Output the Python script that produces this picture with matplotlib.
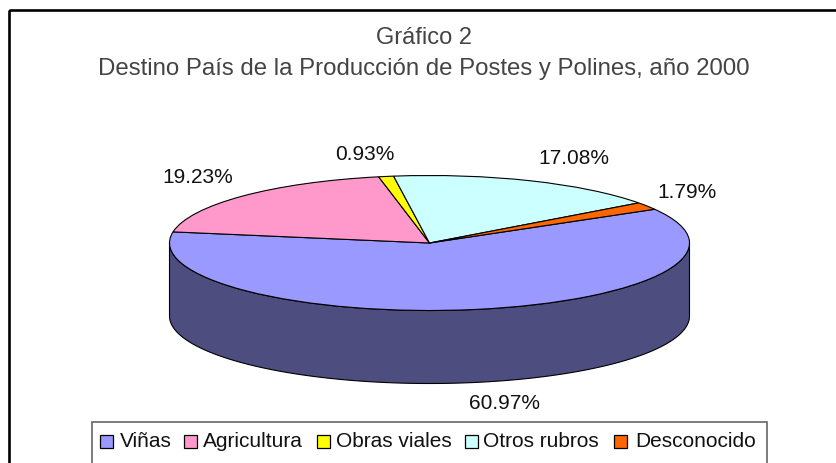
import numpy as np
import matplotlib
matplotlib.use('Agg')
import matplotlib.pyplot as plt
from matplotlib.patches import Wedge, Rectangle, Polygon
from matplotlib.transforms import Affine2D

categories = ['Viñas', 'Agricultura', 'Obras viales', 'Otros rubros', 'Desconocido']
values = [60.97, 19.23, 0.93, 17.08, 1.79]
labels = ['60.97%', '19.23%', '0.93%', '17.08%', '1.79%']
colors = ['#9999FF', '#FF99CC', '#FFFF00', '#CCFFFF', '#FF6600']
side_color = '#4D4D80'

plt.rcParams['font.family'] = ['Liberation Sans', 'DejaVu Sans']

fig = plt.figure(figsize=(8.36, 4.64), dpi=100)
ax = fig.add_axes([0, 0, 1, 1])
ax.set_xlim(0, 836)
ax.set_ylim(464, 0)
ax.axis('off')

# outer frame, right and bottom sides fall outside the picture
ax.add_patch(Rectangle((8.5, 11), 900, 500, fill=False, ec='black', lw=1.9))

ax.text(423.5, 38, 'Gráfico 2', ha='center', va='center', fontsize=17, color='#444444')
ax.text(423.5, 69, 'Destino País de la Producción de Postes y Polines, año 2000',
        ha='center', va='center', fontsize=17.3, color='#444444')

# pie geometry in pixels
cx, cy = 429.5, 244
rx, ry = 260, 67.5
depth = 73

# side wall, lower half of the ellipse pushed down
t = np.radians(np.linspace(180, 360, 200))
top = np.column_stack([cx + rx * np.cos(t), cy - ry * np.sin(t)])
bottom = top[::-1] + [0, depth]
ax.add_patch(Polygon(np.vstack([top, bottom]), fc=side_color, ec='black', lw=0.8))

# first slice starts at 30 deg and goes clockwise
squash = Affine2D().scale(rx, -ry).translate(cx, cy) + ax.transData
start = 30.0
for val, col in zip(values, colors):
    sweep = val / 100 * 360
    ax.add_patch(Wedge((0, 0), 1, start - sweep, start, fc=col, ec='black', lw=0.8, transform=squash))
    start -= sweep

label_pos = [(505, 404), (198, 177.5), (365, 155), (574, 159), (687, 193)]
for lab, (x, y) in zip(labels, label_pos):
    ax.text(x, y, lab, ha='center', va='center', fontsize=15, color='#111111')

# legend box, cut by the bottom of the picture
ax.add_patch(Rectangle((92, 423), 675, 80, fc='white', ec='#666666', lw=1.2))
swatches = [100, 184, 317, 465, 614]
text_x = [120, 203, 336, 483, 635]
for col, cat, sx, tx in zip(colors, categories, swatches, text_x):
    ax.add_patch(Rectangle((sx, 436), 12.5, 13, fc=col, ec='black', lw=0.9))
    ax.text(tx, 442, cat, ha='left', va='center', fontsize=15, color='#111111')

fig.savefig('out.png', dpi=100)
